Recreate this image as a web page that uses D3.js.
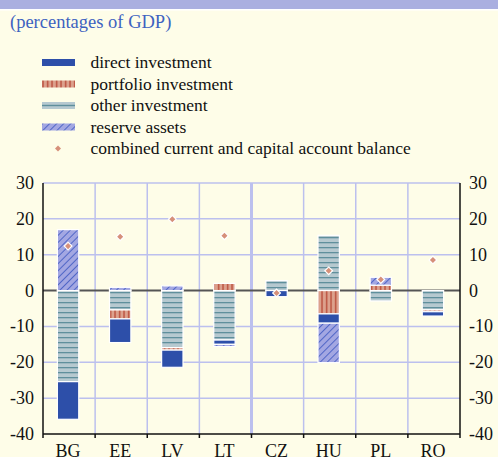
<!DOCTYPE html>
<html>
<head>
<meta charset="utf-8">
<script src="https://cdn.jsdelivr.net/npm/d3@7"></script>
<style>
body { margin:0; background:#fefde8; }
svg { display:block; font-family:"Liberation Serif","Times New Roman",serif; }
</style>
</head>
<body>
<div id="chart"></div>
<script>
// values (percentages of GDP)
var countries = ["BG","EE","LV","LT","CZ","HU","PL","RO"];
var direct    = [-10.5, -6.6, -4.8, -1.2, -1.7, -2.6, 0, -1.2];
var portfolio = [0, -2.5, -0.7, 2.0, 0, -6.5, 1.5, -0.5];
var other     = [-25.4, -5.4, -15.9, -13.8, 2.8, 15.4, -2.9, -5.4];
var reserve   = [17.0, 0.9, 1.3, -0.6, 0, -11.0, 2.2, 0];
var balance   = [12.4, 15.0, 19.9, 15.3, -0.7, 5.5, 3.1, 8.5];
var yTicks = [-40,-30,-20,-10,0,10,20,30];

var W = 498, H = 457;
var margin = {top:183, bottom:23, left:43, right:38};

var svg = d3.select("#chart").append("svg")
  .attr("width", W).attr("height", H);

svg.append("rect").attr("width", W).attr("height", H).attr("fill", "#fefde8");
svg.append("rect").attr("width", W).attr("height", 9).attr("fill", "#aaafe0");
svg.append("rect").attr("y", 9).attr("width", W).attr("height", 1.5).attr("fill", "#fff");

var defs = svg.append("defs");
var p = defs.append("pattern").attr("id","pOther").attr("patternUnits","userSpaceOnUse")
  .attr("width",6).attr("height",5);
p.append("rect").attr("width",6).attr("height",5).attr("fill","#b6c9d0");
p.append("rect").attr("y",2).attr("width",6).attr("height",1.3).attr("fill","#5f8f9c");

p = defs.append("pattern").attr("id","pPort").attr("patternUnits","userSpaceOnUse")
  .attr("width",4.5).attr("height",6);
p.append("rect").attr("width",4.5).attr("height",6).attr("fill","#dca18d");
p.append("rect").attr("x",2).attr("width",1.2).attr("height",6).attr("fill","#b3402c");

p = defs.append("pattern").attr("id","pRes").attr("patternUnits","userSpaceOnUse")
  .attr("width",5).attr("height",5).attr("patternTransform","rotate(45)");
p.append("rect").attr("width",5).attr("height",5).attr("fill","#a3a7e2");
p.append("rect").attr("x",2).attr("width",0.9).attr("height",5).attr("fill","#4860c4");

var fills = {other:"url(#pOther)", portfolio:"url(#pPort)", direct:"#2d4fa9", reserve:"url(#pRes)"};

// title
svg.append("text").attr("x", 10).attr("y", 28)
  .attr("font-size", 18.5).attr("fill", "#3d62c0")
  .text("(percentages of GDP)");

// legend
var legendItems = [
  {key:"direct", label:"direct investment"},
  {key:"portfolio", label:"portfolio investment"},
  {key:"other", label:"other investment"},
  {key:"reserve", label:"reserve assets"},
  {key:"balance", label:"combined current and capital account balance"}
];
var leg = svg.append("g");
legendItems.forEach(function(d, i){
  var cy = 62.5 + i*21.5;
  if (d.key == "balance") {
    leg.append("path").attr("d", d3.symbol(d3.symbolSquare, 18)())
      .attr("transform", "translate(58," + cy + ") rotate(45)")
      .attr("fill", "#d6907a");
  } else if (d.key == "other") {
    leg.append("rect").attr("x",42).attr("y",cy-3.5).attr("width",33).attr("height",7).attr("fill","#b6c9d0");
    leg.append("rect").attr("x",42).attr("y",cy-0.7).attr("width",33).attr("height",1.4).attr("fill","#5f8f9c");
  } else {
    leg.append("rect").attr("x",42).attr("y",cy-3.5).attr("width",33).attr("height",7)
      .attr("fill", fills[d.key]);
  }
  leg.append("text").attr("x", 90.5).attr("y", cy + 5.5)
    .attr("font-size", 17.5).attr("fill", "#111").text(d.label);
});

// scales
var x = d3.scaleBand().domain(countries).range([margin.left, W - margin.right]);
var y = d3.scaleLinear().domain([-40, 30]).range([H - margin.bottom, margin.top]);
var x0 = margin.left, x1 = W - margin.right;

// grid
var grid = svg.append("g");
grid.selectAll(".hg").data(yTicks.filter(function(t){ return t > -40 && t != 0; }))
  .enter().append("line")
  .attr("x1", x0).attr("x2", x1)
  .attr("y1", function(d){ return y(d); }).attr("y2", function(d){ return y(d); })
  .attr("stroke", "#bcc0ee").attr("stroke-width", 1.5);
grid.selectAll(".vg").data(countries.slice(1))
  .enter().append("line")
  .attr("x1", function(d){ return x(d); }).attr("x2", function(d){ return x(d); })
  .attr("y1", y(30)).attr("y2", y(-40))
  .attr("stroke", "#bcc0ee")
  .attr("stroke-width", function(d){ return d == "CZ" ? 3 : 1.5; });

// zero line
svg.append("line").attr("x1", x0).attr("x2", x1).attr("y1", y(0)).attr("y2", y(0))
  .attr("stroke", "#555").attr("stroke-width", 2);

// stacked bars
var keys = ["other","portfolio","direct","reserve"];
var table = countries.map(function(c, i){
  return {country:c, other:other[i], portfolio:portfolio[i], direct:direct[i], reserve:reserve[i]};
});
var series = d3.stack().keys(keys).offset(d3.stackOffsetDiverging)(table);
var bw = x.bandwidth() * 0.41;

svg.append("g").selectAll("g").data(series).enter().append("g")
  .attr("fill", function(s){ return fills[s.key]; })
  .selectAll("rect").data(function(s){ return s.filter(function(d){ return d[1] != d[0]; }); })
  .enter().append("rect")
  .attr("x", function(d){ return x(d.data.country) + x.bandwidth()/2 - bw/2 - 1; })
  .attr("width", bw)
  .attr("y", function(d){ return y(Math.max(d[0], d[1])); })
  .attr("height", function(d){ return Math.abs(y(d[0]) - y(d[1])); })
  .attr("stroke", "#fff").attr("stroke-width", 1.2);

// balance markers
svg.append("g").selectAll("path").data(balance).enter().append("path")
  .attr("d", d3.symbol(d3.symbolSquare, 30)())
  .attr("transform", function(d, i){
    return "translate(" + (x(countries[i]) + x.bandwidth()/2 - 1) + "," + y(d) + ") rotate(45)";
  })
  .attr("fill", "#d6907a").attr("stroke", "#fff").attr("stroke-width", 1.2);

// axes
var ax = svg.append("g").attr("stroke", "#111").attr("stroke-width", 1.5).attr("fill", "none");
ax.append("line").attr("x1", x0).attr("x2", x0).attr("y1", y(30)).attr("y2", y(-40) + 4);
ax.append("line").attr("x1", x1).attr("x2", x1).attr("y1", y(30)).attr("y2", y(-40) + 4);
ax.append("line").attr("x1", x0).attr("x2", x1).attr("y1", y(-40)).attr("y2", y(-40));
ax.selectAll(".tk").data(countries.slice(1)).enter().append("line")
  .attr("x1", function(d){ return x(d); }).attr("x2", function(d){ return x(d); })
  .attr("y1", y(-40)).attr("y2", y(-40) + 4);

var lab = svg.append("g").attr("font-size", 18).attr("fill", "#111");
lab.selectAll(".yl").data(yTicks).enter().append("text")
  .attr("x", 34).attr("y", function(d){ return y(d) + 6; })
  .attr("text-anchor", "end").text(function(d){ return d; });
lab.selectAll(".yr").data(yTicks).enter().append("text")
  .attr("x", 469).attr("y", function(d){ return y(d) + 6; })
  .text(function(d){ return d; });
lab.selectAll(".xl").data(countries).enter().append("text")
  .attr("x", function(d){ return x(d) + x.bandwidth()/2 - 1; })
  .attr("y", 457).attr("text-anchor", "middle")
  .text(function(d){ return d; });
</script>
</body>
</html>
